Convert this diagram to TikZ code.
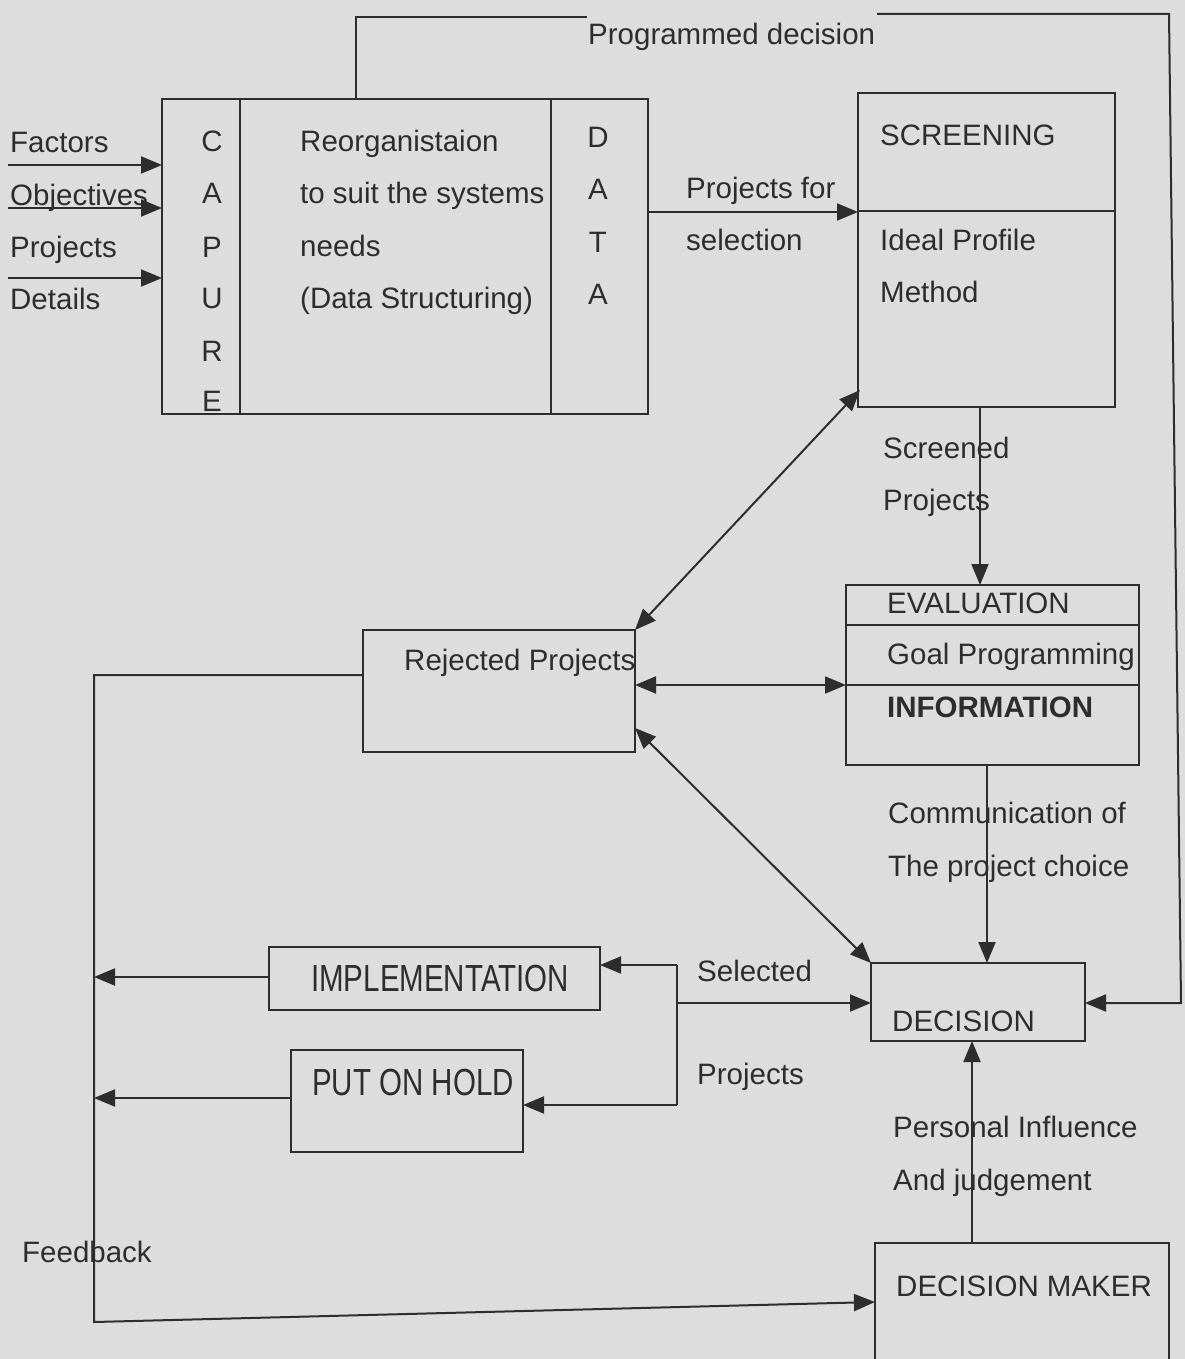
\documentclass[tikz,border=0pt]{standalone}
\usepackage{fontspec}
\setmainfont{Liberation Sans}
\usetikzlibrary{arrows.meta}
\definecolor{bgc}{RGB}{221,221,221}
\definecolor{ink}{RGB}{45,45,45}
\begin{document}
\begin{tikzpicture}[x=1pt,y=-1pt,
  ln/.style={draw=ink, line width=2pt},
  box/.style={ln, anchor=north west, inner sep=0pt, outer sep=0pt},
  arr/.style={ln, -{Triangle[length=21pt,width=17pt]}},
  arrtwo/.style={ln, {Triangle[length=21pt,width=17pt]}-{Triangle[length=21pt,width=17pt]}},
  lbl/.style={anchor=base west, inner sep=0pt, text=ink, font=\fontsize{29.5}{52}\selectfont},
  letter/.style={lbl, anchor=base},
]
\clip (0,0) rectangle (1185,1359);
\fill[bgc] (0,0) rectangle (1185,1359);

% ---------- boxes ----------
\node[box, minimum width=486pt, minimum height=315pt] (cap) at (162,99) {};
\draw[ln] (240,99) -- (240,414);
\draw[ln] (551,99) -- (551,414);
\node[box, minimum width=257pt, minimum height=314pt] (scr) at (858,93) {};
\draw[ln] (858,211) -- (1115,211);
\node[box, minimum width=293pt, minimum height=180pt] (eva) at (846,585) {};
\draw[ln] (846,625) -- (1139,625);
\draw[ln] (846,685) -- (1139,685);
\node[box, minimum width=272pt, minimum height=122pt] (rej) at (363,630) {};
\node[box, minimum width=214pt, minimum height=78pt] (dec) at (871,963) {};
\node[box, minimum width=331pt, minimum height=63pt] (imp) at (269,947) {};
\node[box, minimum width=232pt, minimum height=102pt] (hold) at (291,1050) {};
\node[box, minimum width=294pt, minimum height=160pt] (dm) at (875,1243) {};

% ---------- coordinates ----------
\coordinate (in1) at (8,165);
\coordinate (in2) at (8,208);
\coordinate (in3) at (8,278);
\coordinate (pda) at (356,99);
\coordinate (pdb) at (587,17);
\coordinate (pdc) at (877,14);
\coordinate (rc1) at (1169,14);
\coordinate (rc2) at (1181,1003);
\coordinate (ds) at (648,212);
\coordinate (se) at (980,407);
\coordinate (sd) at (860,390);
\coordinate (re) at (635,685);
\coordinate (rd) at (635,728);
\coordinate (ed) at (987,765);
\coordinate (md) at (972,1243);
\coordinate (fb0) at (363,675);
\coordinate (fb1) at (94,675);
\coordinate (fb2) at (94,1322);
\coordinate (fb3) at (875,1302);
\coordinate (sb1) at (677,965);
\coordinate (sb2) at (677,1003);
\coordinate (sb3) at (677,1105);
\coordinate (il) at (269,977);
\coordinate (hl) at (291,1098);

% ---------- connectors ----------
\draw[arr] (in1) -- (in1 -| cap.west);
\draw[arr] (in2) -- (in2 -| cap.west);
\draw[arr] (in3) -- (in3 -| cap.west);
\draw[ln] (pda) |- (pdb);
\draw[arr] (pdc) -- (rc1) -- (rc2) -- (rc2 -| dec.east);
\draw[arr] (ds) -- (ds -| scr.west);
\draw[arr] (se) -- (se |- eva.north);
\draw[arrtwo] (sd) -- (rej.north east);
\draw[arrtwo] (re) -- (re -| eva.west);
\draw[arrtwo] (rd) -- (dec.north west);
\draw[arr] (ed) -- (ed |- dec.north);
\draw[arr] (md) -- (md |- dec.south);
\draw[arr] (fb0) -- (fb1) -- (fb2) -- (fb3);
\draw[arr] (il) -- (il -| fb1);
\draw[arr] (hl) -- (hl -| fb1);
\draw[arr] (sb1) -- (sb1 -| imp.east);
\draw[ln] (sb1) -- (sb3);
\draw[arr] (sb3) -- (sb3 -| hold.east);
\draw[arr] (sb2) -- (sb2 -| dec.west);

% ---------- texts ----------
\node[lbl] (tpd) at (588,45) {Programmed decision};
\node[lbl] (tf) at (10,153) {Factors};
\node[lbl] (to) at (10,205) {Objectives};
\node[lbl] (tp) at (10,257) {Projects};
\node[lbl] (td) at (10,309) {Details};
\node[letter] (c1) at (212,152) {C};
\node[letter] (c2) at (212,204) {A};
\node[letter] (c3) at (212,257) {P};
\node[letter] (c4) at (212,308) {U};
\node[letter] (c5) at (212,361) {R};
\node[letter] (c6) at (212,411) {E};
\node[lbl] (m1) at (300,152) {Reorganistaion};
\node[lbl] (m2) at (300,204) {to suit the systems};
\node[lbl] (m3) at (300,256) {needs};
\node[lbl] (m4) at (300,308) {(Data Structuring)};
\node[letter] (d1) at (598,148) {D};
\node[letter] (d2) at (598,200) {A};
\node[letter] (d3) at (598,252) {T};
\node[letter] (d4) at (598,304) {A};
\node[lbl] (pf1) at (686,198) {Projects for};
\node[lbl] (pf2) at (686,250) {selection};
\node[lbl] (s1) at (880,146) {SCREENING};
\node[lbl] (s2) at (880,250) {Ideal Profile};
\node[lbl] (s3) at (880,302) {Method};
\node[lbl] (sp1) at (883,458) {Screened};
\node[lbl] (sp2) at (883,510) {Projects};
\node[lbl] (e1) at (887,613) {EVALUATION};
\node[lbl] (e2) at (887,664) {Goal Programming};
\node[lbl] (e3) at (887,717) {\bfseries INFORMATION};
\node[lbl] (rj) at (404,670) {Rejected Projects};
\node[lbl] (co1) at (888,823) {Communication of};
\node[lbl] (co2) at (888,876) {The project choice};
\node[lbl] (ti) at (311,991) {\scalebox{1}[1.28]{IMPLEMENTATION}};
\node[lbl] (th) at (312,1095) {\scalebox{1}[1.28]{PUT ON HOLD}};
\node[lbl] (sl1) at (697,981) {Selected};
\node[lbl] (sl2) at (697,1084) {Projects};
\node[lbl] (tdec) at (892,1031) {DECISION};
\node[lbl] (pi1) at (893,1137) {Personal Influence};
\node[lbl] (pi2) at (893,1190) {And judgement};
\node[lbl] (tdm) at (896,1296) {DECISION MAKER};
\node[lbl] (tfb) at (22,1262) {Feedback};
\end{tikzpicture}
\end{document}
